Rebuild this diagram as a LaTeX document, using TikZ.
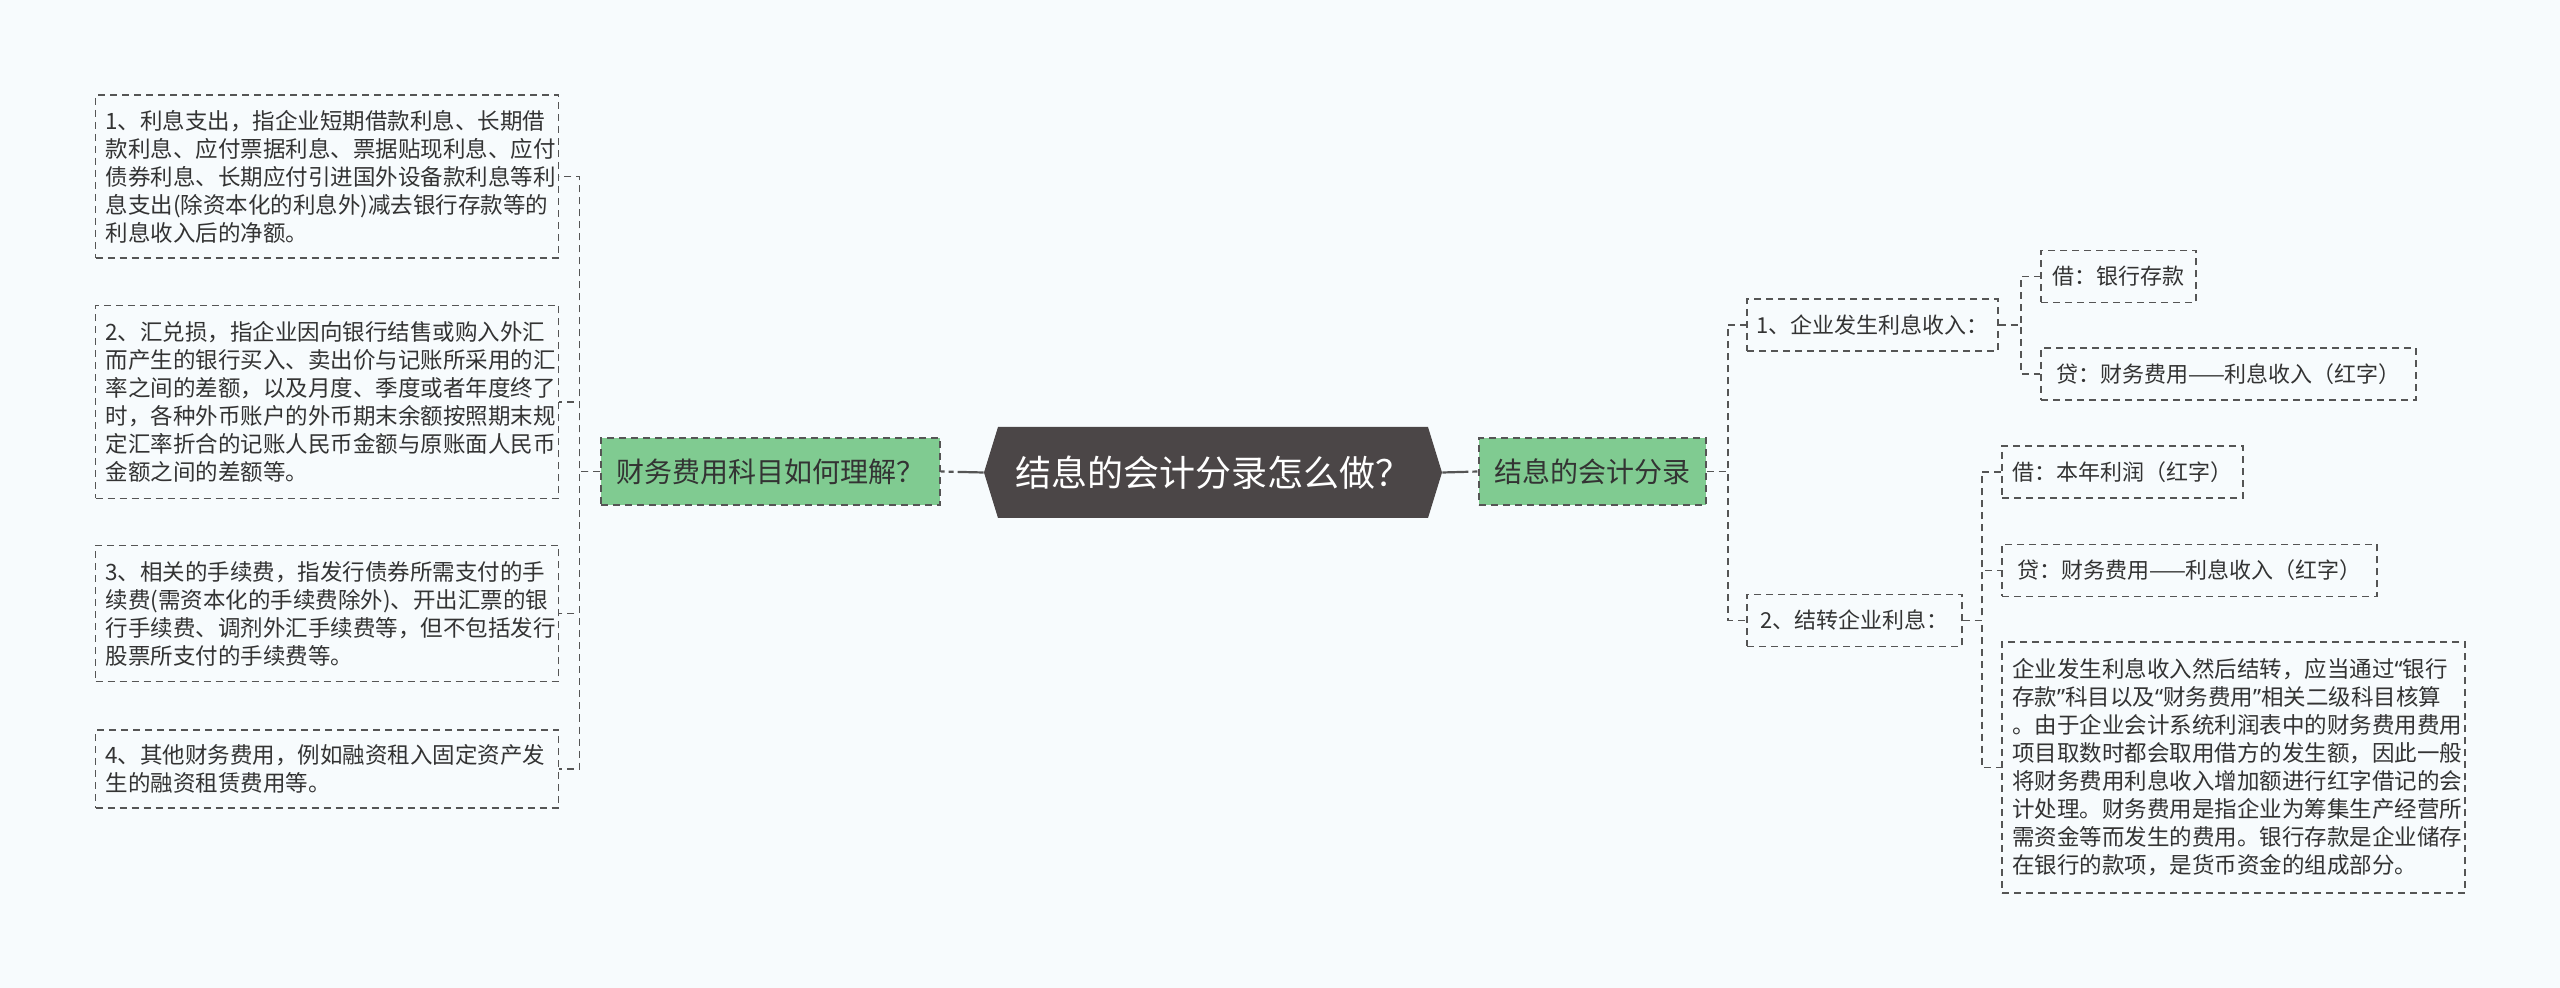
\documentclass[tikz,border=0pt]{standalone}
\usepackage{fontspec}
\newfontfamily\cjk{Noto Sans CJK SC}
\newfontfamily\latino{Noto Sans}
\newcommand{\virgola}[1]{{\latino “}#1{\latino ”}}
\definecolor{sfondo}{HTML}{F7FBFD}
\definecolor{verde}{HTML}{80CB91}
\definecolor{grigioscuro}{HTML}{4B4647}
\definecolor{bordo}{HTML}{555555}
\definecolor{testo}{HTML}{333333}
\tikzset{
  tratteggio/.style={draw=bordo, line width=0.75pt, dash pattern=on 3.5pt off 2.5pt},
  ramo/.style={tratteggio},
  ramoradice/.style={draw=bordo, line width=1.1pt, dash pattern=on 13pt off 2pt on 2.5pt off 2pt on 2.5pt off 2pt},
  scheda/.style={tratteggio, text=testo, align=left, inner xsep=5pt, text width=221.5pt,
    font=\cjk\fontsize{11.25}{14}\selectfont},
  voce/.style={tratteggio, text=testo, minimum height=26pt, font=\cjk\fontsize{11}{13}\selectfont},
  tema/.style={tratteggio, fill=verde, text=testo, minimum height=33.5pt, font=\cjk\fontsize{14}{16}\selectfont},
  radice/.style={fill=sfondo, text=white, minimum width=229pt, minimum height=45.5pt,
    font=\cjk\fontsize{18}{20}\selectfont,
    path picture={\fill[grigioscuro]
      ([xshift=7pt]path picture bounding box.north west) -- ([xshift=-7pt]path picture bounding box.north east)
      -- (path picture bounding box.east) -- ([xshift=-7pt]path picture bounding box.south east)
      -- ([xshift=7pt]path picture bounding box.south west) -- (path picture bounding box.west) -- cycle;}}
}
\begin{document}
\begin{tikzpicture}[x=0.5pt, y=-0.5pt]
        % Sfondo
        \fill[sfondo] (0,0) rectangle (2560,988);
        \useasboundingbox (0,0) rectangle (2560,988);

        % Nodo centrale
        \node[radice] (radice) at (1213,472.5) {结息的会计分录怎么做？};

        % Rami principali
        \node[tema, minimum width=169.5pt] (capire) at (770.5,471.5) {财务费用科目如何理解？};
        \node[tema, minimum width=113.5pt] (scrittura) at (1592.5,471.5) {结息的会计分录};

        % Schede a sinistra
        \node[scheda, minimum height=81.5pt] (interessi) at (327,176.5) {1、利息支出，指企业短期借款利息、长期借\\款利息、应付票据利息、票据贴现利息、应付\\债券利息、长期应付引进国外设备款利息等利\\息支出(除资本化的利息外)减去银行存款等的\\利息收入后的净额。};
        \node[scheda, minimum height=96.5pt] (cambio) at (327,402) {2、汇兑损，指企业因向银行结售或购入外汇\\而产生的银行买入、卖出价与记账所采用的汇\\率之间的差额，以及月度、季度或者年度终了\\时，各种外币账户的外币期末余额按照期末规\\定汇率折合的记账人民币金额与原账面人民币\\金额之间的差额等。};
        \node[scheda, minimum height=68pt] (commissioni) at (327,613.5) {3、相关的手续费，指发行债券所需支付的手\\续费(需资本化的手续费除外)、开出汇票的银\\行手续费、调剂外汇手续费等，但不包括发行\\股票所支付的手续费等。};
        \node[scheda, minimum height=39pt] (altri) at (327,769) {4、其他财务费用，例如融资租入固定资产发\\生的融资租赁费用等。};

        % Voci a destra
        \node[voce, minimum width=125.5pt] (incasso) at (1872.5,325) {1、企业发生利息收入：};
        \node[voce, minimum width=77.5pt] (dare1) at (2118.5,276.5) {借：银行存款};
        \node[voce, minimum width=187.5pt] (avere1) at (2228.5,374) {贷：财务费用——利息收入（红字）};
        \node[voce, minimum width=107.5pt] (giro) at (1854.5,620.5) {2、结转企业利息：};
        \node[voce, minimum width=120.5pt] (dare2) at (2122.5,472) {借：本年利润（红字）};
        \node[voce, minimum width=187.5pt] (avere2) at (2189.5,570.5) {贷：财务费用——利息收入（红字）};
        \node[scheda, minimum height=125.5pt] (nota) at (2233.5,767.5) {企业发生利息收入然后结转，应当通过{\latino “}银行\\存款{\latino ”}科目以及\virgola{财务费用}相关二级科目核算\\。由于企业会计系统利润表中的财务费用费用\\项目取数时都会取用借方的发生额，因此一般\\将财务费用利息收入增加额进行红字借记的会\\计处理。财务费用是指企业为筹集生产经营所\\需资金等而发生的费用。银行存款是企业储存\\在银行的款项，是货币资金的组成部分。};

        % Collegamenti
        \draw[ramoradice] (radice.west) -- (capire.east);
        \draw[ramoradice] (radice.east) -- (scrittura.west);
        \foreach \f in {interessi, cambio, commissioni, altri}
          \draw[ramo] (capire.west) -- ++(-21,0) |- (\f.east);
        \foreach \f in {incasso, giro}
          \draw[ramo] (scrittura.east) -- ++(21,0) |- (\f.west);
        \foreach \f in {dare1, avere1}
          \draw[ramo] (incasso.east) -- ++(22,0) |- (\f.west);
        \foreach \f in {dare2, avere2, nota}
          \draw[ramo] (giro.east) -- ++(19,0) |- (\f.west);

    \end{tikzpicture}
\end{document}
